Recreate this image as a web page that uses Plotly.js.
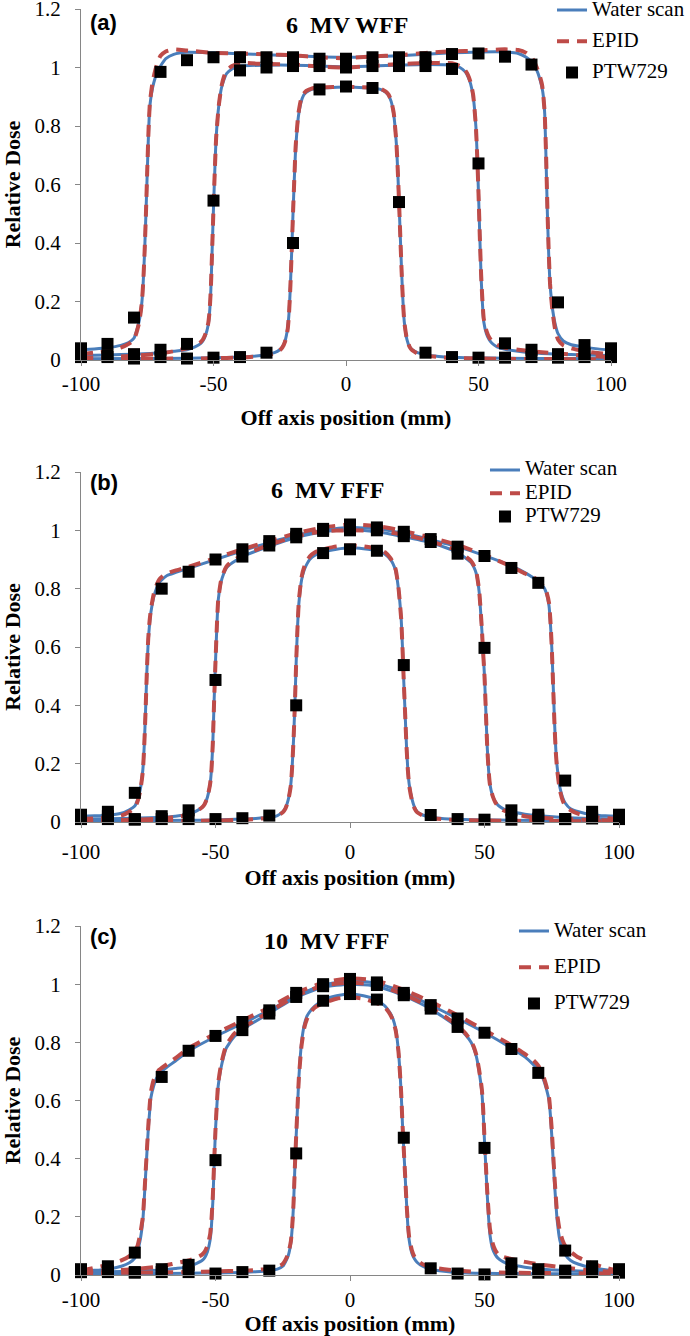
<!DOCTYPE html>
<html><head><meta charset="utf-8">
<script src="https://cdn.plot.ly/plotly-3.0.1.min.js"></script>
<style>html,body{margin:0;padding:0;background:#fff}</style>
</head><body><div id="chart" style="width:690px;height:1336px"></div>
<script>
// ---------------- data ----------------
const panelTitles = ['6\u00A0 MV WFF', '6\u00A0 MV FFF', '10\u00A0 MV FFF'];
const panelLabels = ['(a)', '(b)', '(c)'];
const seriesNames = ['Water scan', 'EPID', 'PTW729'];
const xTickVals = [-100, -50, 0, 50, 100];
const xTickText = ['-100', '-50', '0', '50', '100'];

const xPTW = [-100,-90,-80,-70,-60,-50,-40,-30,-20,-10,0,10,20,30,40,50,60,70,80,90,100];

const x150 = [-100,-95,-90,-85,-82, -80,-79,-78,-77,-76.5, -76,-75.5,-75,-74.5,-74, -73,-72,-71,-70,-68,
  -65,-60,-50,-40,-30, -20,-10,0,10,20, 30,40,50,60,65, 68,70,71,72,73, 74,74.5,75,75.5,76, 76.5,77,78,79,80, 82,85,90,95,100];
const x100 = [-100,-90,-80,-70,-65, -60,-57,-55,-54,-53, -52,-51.5,-51,-50.5,-50, -49.5,-49,-48,-47,-46,
  -45,-43,-40,-30,-20, -10,0,10,20,30, 40,43,45,46,47, 48,49,49.5,50,50.5, 51,51.5,52,53,54, 55,57,60,65,70, 80,90,100];
const x40 = [-100,-80,-60,-50,-40, -35,-30,-27,-25,-24, -23,-22,-21.5,-21,-20.5, -20,-19.5,-19,-18,-17,
  -16,-15,-13,-10,-5, 0,5,10,13,15, 16,17,18,19,19.5, 20,20.5,21,21.5,22, 23,24,25,27,30, 35,40,50,60,80, 100];

// Panel (a) 6 MV WFF
const waterA150 = [0.035,0.038,0.042,0.05,0.06, 0.075,0.1,0.135,0.2,0.27, 0.37,0.5,0.64,0.78,0.87, 0.93,0.965,0.99,1.005,1.03,
  1.045,1.052,1.05,1.047,1.044, 1.04,1.037,1.035,1.037,1.04, 1.045,1.05,1.053,1.053,1.048, 1.035,1.02,1.005,0.99,0.965,
  0.93,0.9,0.84,0.68,0.5, 0.36,0.26,0.17,0.12,0.09, 0.065,0.052,0.044,0.038,0.034];
const epidA150 = [0.02,0.025,0.03,0.042,0.055, 0.07,0.095,0.13,0.2,0.27, 0.37,0.5,0.65,0.79,0.88, 0.95,0.99,1.02,1.04,1.055,
  1.062,1.058,1.05,1.048,1.045, 1.042,1.035,1.032,1.038,1.042, 1.05,1.055,1.058,1.062,1.06, 1.05,1.035,1.02,1.0,0.975,
  0.94,0.9,0.84,0.7,0.52, 0.37,0.26,0.16,0.1,0.07, 0.05,0.04,0.03,0.024,0.02];
const waterA100 = [0.015,0.017,0.02,0.025,0.03, 0.035,0.045,0.055,0.065,0.085, 0.12,0.16,0.24,0.38,0.52, 0.65,0.76,0.87,0.93,0.96,
  0.98,0.995,1.005,1.008,1.008, 1.005,1.002,1.005,1.008,1.01, 1.008,1.0,0.985,0.97,0.945, 0.9,0.8,0.7,0.57,0.42,
  0.28,0.19,0.13,0.09,0.07, 0.058,0.045,0.037,0.03,0.025, 0.02,0.017,0.015];
const epidA100 = [0.008,0.01,0.015,0.022,0.03, 0.04,0.05,0.06,0.07,0.09, 0.125,0.165,0.245,0.38,0.52, 0.65,0.76,0.87,0.935,0.97,
  0.99,1.005,1.015,1.012,1.01, 1.003,1.0,1.005,1.012,1.015, 1.015,1.005,0.99,0.975,0.95, 0.905,0.8,0.7,0.57,0.42,
  0.29,0.2,0.14,0.1,0.078, 0.065,0.052,0.042,0.035,0.03, 0.022,0.015,0.01];
const waterA40 = [0.004,0.005,0.006,0.008,0.01, 0.013,0.018,0.025,0.035,0.045, 0.065,0.11,0.16,0.25,0.37, 0.5,0.62,0.72,0.83,0.88,
  0.905,0.915,0.925,0.93,0.932, 0.933,0.932,0.93,0.925,0.915, 0.905,0.885,0.84,0.74,0.65, 0.54,0.42,0.3,0.2,0.13,
  0.07,0.045,0.035,0.025,0.018, 0.012,0.009,0.007,0.006,0.005, 0.004];
const epidA40 = [0.003,0.004,0.005,0.006,0.008, 0.011,0.016,0.023,0.033,0.043, 0.063,0.105,0.16,0.25,0.37, 0.5,0.62,0.73,0.84,0.89,
  0.91,0.92,0.928,0.932,0.933, 0.934,0.933,0.932,0.928,0.918, 0.908,0.888,0.845,0.745,0.655, 0.545,0.42,0.3,0.2,0.13,
  0.07,0.045,0.033,0.022,0.015, 0.01,0.007,0.005,0.004,0.003, 0.003];
const ptwA150 = [0.04,0.055,0.145,0.985,1.025,1.035,1.035,1.035,1.035,1.03,1.03,1.035,1.035,1.035,1.046,1.048,1.037,1.01,0.197,0.051,0.04];
const ptwA100 = [0.02,0.015,0.02,0.035,0.055,0.545,0.99,1.0,1.005,1.005,1.0,1.005,1.005,1.005,0.995,0.672,0.057,0.035,0.02,0.02,0.02];
const ptwA40 = [0.01,0.01,0.005,0.01,0.005,0.008,0.01,0.025,0.40,0.925,0.935,0.93,0.54,0.025,0.01,0.008,0.008,0.01,0.008,0.01,0.01];

// Panel (b) 6 MV FFF
const waterB150 = [0.02,0.021,0.023,0.03,0.042, 0.055,0.075,0.11,0.18,0.26, 0.38,0.52,0.62,0.68,0.72, 0.77,0.8,0.82,0.83,0.845,
  0.855,0.87,0.9,0.93,0.958, 0.982,1.0,1.01,1.005,0.99, 0.968,0.944,0.913,0.878,0.855, 0.838,0.825,0.815,0.805,0.785,
  0.74,0.68,0.6,0.48,0.35, 0.25,0.19,0.12,0.085,0.065, 0.045,0.035,0.025,0.021,0.02];
const epidB150 = [0.01,0.012,0.015,0.022,0.035, 0.05,0.07,0.105,0.175,0.26, 0.38,0.52,0.63,0.69,0.73, 0.78,0.81,0.83,0.84,0.852,
  0.862,0.875,0.905,0.935,0.963, 0.99,1.01,1.02,1.015,0.998, 0.975,0.95,0.916,0.876,0.852, 0.84,0.828,0.818,0.808,0.79,
  0.75,0.69,0.6,0.47,0.34, 0.24,0.18,0.11,0.075,0.055, 0.04,0.028,0.018,0.013,0.01];
const waterB100 = [0.01,0.011,0.013,0.016,0.02, 0.026,0.038,0.05,0.062,0.085, 0.13,0.18,0.27,0.42,0.55, 0.67,0.76,0.82,0.85,0.87,
  0.88,0.893,0.91,0.945,0.975, 0.995,1.0,0.995,0.978,0.958, 0.925,0.905,0.89,0.875,0.85, 0.79,0.66,0.58,0.5,0.38,
  0.26,0.18,0.13,0.09,0.07, 0.058,0.045,0.035,0.027,0.022, 0.015,0.012,0.01];
const epidB100 = [0.005,0.006,0.008,0.012,0.017, 0.025,0.037,0.05,0.062,0.085, 0.13,0.18,0.27,0.42,0.55, 0.67,0.76,0.825,0.855,0.875,
  0.885,0.898,0.915,0.95,0.98, 0.997,1.0,0.998,0.985,0.963, 0.93,0.91,0.895,0.88,0.855, 0.795,0.665,0.58,0.5,0.38,
  0.26,0.18,0.13,0.09,0.068, 0.055,0.04,0.03,0.02,0.015, 0.01,0.007,0.005];
const waterB40 = [0.005,0.005,0.006,0.007,0.01, 0.012,0.016,0.022,0.035,0.048, 0.075,0.13,0.19,0.28,0.4, 0.55,0.67,0.75,0.83,0.865,
  0.885,0.9,0.915,0.925,0.935, 0.94,0.937,0.93,0.918,0.9, 0.885,0.86,0.8,0.7,0.6, 0.48,0.37,0.26,0.18,0.13,
  0.08,0.05,0.035,0.024,0.016, 0.011,0.009,0.007,0.006,0.005, 0.005];
const epidB40 = [0.003,0.003,0.004,0.005,0.008, 0.01,0.015,0.021,0.033,0.046, 0.072,0.125,0.19,0.28,0.4, 0.55,0.67,0.76,0.84,0.875,
  0.895,0.91,0.925,0.935,0.945, 0.948,0.945,0.937,0.925,0.905, 0.89,0.865,0.805,0.7,0.6, 0.48,0.37,0.26,0.18,0.125,
  0.075,0.047,0.033,0.022,0.014, 0.009,0.007,0.005,0.004,0.003, 0.003];
const ptwB150 = [0.025,0.035,0.1,0.8,0.858,0.9,0.935,0.963,0.988,1.005,1.02,1.01,0.995,0.97,0.944,0.912,0.871,0.82,0.142,0.035,0.025];
const ptwB100 = [0.015,0.02,0.01,0.02,0.04,0.487,0.91,0.948,0.976,0.998,1.0,1.0,0.98,0.96,0.92,0.597,0.04,0.025,0.01,0.02,0.015];
const ptwB40 = [0.01,0.01,0.008,0.01,0.01,0.01,0.013,0.022,0.40,0.922,0.935,0.93,0.538,0.024,0.01,0.008,0.008,0.012,0.01,0.012,0.01];

// Panel (c) 10 MV FFF
const waterC150 = [0.015,0.016,0.02,0.03,0.042, 0.058,0.08,0.12,0.19,0.26, 0.34,0.42,0.5,0.56,0.61, 0.65,0.675,0.69,0.7,0.715,
  0.735,0.77,0.82,0.865,0.91, 0.96,0.997,1.012,1.003,0.972, 0.928,0.882,0.834,0.78,0.75, 0.725,0.705,0.69,0.67,0.64,
  0.6,0.55,0.48,0.4,0.32, 0.25,0.19,0.12,0.09,0.07, 0.05,0.037,0.025,0.018,0.015];
const epidC150 = [0.015,0.025,0.035,0.05,0.065, 0.085,0.1,0.14,0.2,0.27, 0.35,0.43,0.51,0.58,0.63, 0.67,0.69,0.705,0.712,0.725,
  0.745,0.78,0.83,0.875,0.92, 0.97,1.005,1.02,1.012,0.98, 0.94,0.893,0.842,0.79,0.76, 0.74,0.72,0.7,0.68,0.65,
  0.61,0.56,0.5,0.42,0.34, 0.27,0.21,0.15,0.12,0.1, 0.08,0.06,0.04,0.025,0.015];
const waterC100 = [0.01,0.011,0.013,0.017,0.022, 0.028,0.04,0.05,0.06,0.08, 0.12,0.17,0.25,0.38,0.5, 0.58,0.65,0.71,0.75,0.78,
  0.795,0.82,0.845,0.9,0.955, 0.99,1.0,0.993,0.96,0.915, 0.852,0.825,0.8,0.78,0.75, 0.7,0.63,0.56,0.46,0.37,
  0.28,0.2,0.14,0.09,0.07, 0.058,0.045,0.035,0.027,0.021, 0.016,0.012,0.01];
const epidC100 = [0.01,0.015,0.02,0.03,0.04, 0.05,0.06,0.07,0.08,0.1, 0.14,0.19,0.27,0.39,0.5, 0.59,0.66,0.72,0.76,0.79,
  0.805,0.83,0.85,0.905,0.96, 0.995,1.005,0.997,0.965,0.92, 0.858,0.83,0.805,0.785,0.755, 0.705,0.64,0.57,0.47,0.38,
  0.29,0.22,0.16,0.11,0.085, 0.072,0.062,0.055,0.045,0.037, 0.025,0.015,0.01];
const waterC40 = [0.004,0.005,0.006,0.007,0.009, 0.011,0.015,0.02,0.03,0.045, 0.065,0.11,0.16,0.24,0.37, 0.48,0.58,0.68,0.8,0.86,
  0.89,0.905,0.925,0.945,0.96, 0.966,0.96,0.945,0.925,0.9, 0.88,0.845,0.77,0.63,0.52, 0.43,0.34,0.25,0.17,0.12,
  0.075,0.055,0.043,0.03,0.02, 0.013,0.009,0.006,0.005,0.004, 0.004];
const epidC40 = [0.006,0.008,0.01,0.012,0.015, 0.017,0.022,0.028,0.038,0.052, 0.072,0.115,0.165,0.245,0.37, 0.48,0.58,0.68,0.79,0.85,
  0.88,0.9,0.92,0.935,0.95, 0.955,0.95,0.935,0.92,0.895, 0.875,0.84,0.77,0.63,0.52, 0.43,0.34,0.25,0.18,0.13,
  0.085,0.062,0.05,0.037,0.027, 0.02,0.015,0.01,0.008,0.006, 0.005];
const ptwC150 = [0.02,0.03,0.077,0.681,0.771,0.822,0.87,0.91,0.97,1.0,1.018,1.006,0.97,0.928,0.882,0.833,0.777,0.695,0.084,0.03,0.02];
const ptwC100 = [0.01,0.015,0.01,0.02,0.035,0.395,0.842,0.899,0.956,0.993,1.0,0.997,0.962,0.916,0.853,0.437,0.04,0.02,0.015,0.02,0.015];
const ptwC40 = [0.01,0.01,0.008,0.01,0.01,0.005,0.01,0.015,0.418,0.943,0.966,0.947,0.472,0.023,0.005,0.002,0.01,0.008,0.008,0.01,0.008];

// ---------------- build ----------------
const BLUE = '#4A7EBB', RED = '#BE4B48';
const SERIF = "'Times New Roman', 'Liberation Serif', serif";
const SANS = "Arial, 'Liberation Sans', sans-serif";

const panels = [
  {water:[waterA150,waterA100,waterA40], epid:[epidA150,epidA100,epidA40], ptw:[ptwA150,ptwA100,ptwA40]},
  {water:[waterB150,waterB100,waterB40], epid:[epidB150,epidB100,epidB40], ptw:[ptwB150,ptwB100,ptwB40]},
  {water:[waterC150,waterC100,waterC40], epid:[epidC150,epidC100,epidC40], ptw:[ptwC150,ptwC100,ptwC40]}
];
const xGrids = [x150, x100, x40];
const legendIds = ['legend', 'legend2', 'legend3'];
// legend text is drawn at 21px while rows are packed tighter than Plotly's default row height
const legendName = s => '<span style="font-size:21px">' + s + '</span>';

const traces = [];
panels.forEach((p, i) => {
  const xa = i === 0 ? 'x' : 'x' + (i + 1);
  const ya = i === 0 ? 'y' : 'y' + (i + 1);
  const lg = legendIds[i];
  p.water.forEach((ys, k) => traces.push({
    type:'scatter', mode:'lines', x:xGrids[k], y:ys, xaxis:xa, yaxis:ya,
    name:legendName(seriesNames[0]), legend:lg, legendgroup:'w'+i, showlegend:k===0, cliponaxis:false,
    line:{color:BLUE, width:3, shape:'spline', smoothing:0.5}
  }));
  p.epid.forEach((ys, k) => traces.push({
    type:'scatter', mode:'lines', x:xGrids[k], y:ys, xaxis:xa, yaxis:ya,
    name:legendName(seriesNames[1]), legend:lg, legendgroup:'e'+i, showlegend:k===0, cliponaxis:false,
    line:{color:RED, width:4, dash:'12px,8px', shape:'spline', smoothing:0.5}
  }));
  p.ptw.forEach((ys, k) => traces.push({
    type:'scatter', mode:'markers', x:xPTW, y:ys, xaxis:xa, yaxis:ya,
    name:legendName(seriesNames[2]), legend:lg, legendgroup:'p'+i, showlegend:k===0, cliponaxis:false,
    marker:{symbol:'square', size:12, color:'#000000'}
  }));
});

const AX = '#868686';
function xAxis(domain, anchor, standoff, tstand) {
  return {domain, anchor, range:[-100,100], tickmode:'array', tickvals:xTickVals, ticktext:xTickText,
    showline:true, linecolor:AX, linewidth:1, ticks:'outside', ticklen:5, tickcolor:AX,
    showgrid:false, zeroline:false, ticklabelstandoff:standoff, ticklabeloverflow:'allow',
    tickfont:{family:SERIF, size:21, color:'#000'},
    title:{text:'Off axis position (mm)', standoff:tstand, font:{family:SERIF, size:22, color:'#000', weight:'bold'}}};
}
function yAxis(domain, anchor) {
  return {domain, anchor, range:[0,1.2], dtick:0.2, tick0:0,
    showline:true, linecolor:AX, linewidth:1, ticks:'outside', ticklen:5, tickcolor:AX,
    showgrid:false, zeroline:false, ticklabelstandoff:10, ticklabeloverflow:'allow',
    tickfont:{family:SERIF, size:21, color:'#000'},
    title:{text:'Relative Dose', standoff:18, font:{family:SERIF, size:22, color:'#000', weight:'bold'}}};
}
function legend(x, y, gap) {
  return {x, y, xanchor:'left', yanchor:'top', bgcolor:'rgba(0,0,0,0)', borderwidth:0,
    traceorder:'grouped', tracegroupgap:gap,
    font:{family:SERIF, size:14, color:'#000'}};
}

const annotations = [];
const titleX = [0.502, 0.459, 0.457];
const titleY = [0.955, 0.949, 0.958];
const labelY = [0.962, 0.969, 0.969];
panelTitles.forEach((t, i) => {
  const xr = i === 0 ? 'x domain' : 'x' + (i + 1) + ' domain';
  const yr = i === 0 ? 'y domain' : 'y' + (i + 1) + ' domain';
  annotations.push({text:t, xref:xr, yref:yr, x:titleX[i], y:titleY[i], xanchor:'center', yanchor:'middle',
    showarrow:false, font:{family:SERIF, size:24, color:'#000', weight:'bold'}});
  annotations.push({text:panelLabels[i], xref:xr, yref:yr, x:0.013, y:labelY[i], xanchor:'left', yanchor:'middle',
    showarrow:false, font:{family:SANS, size:22, color:'#000', weight:'bold'}});
});

const layout = {
  width:690, height:1336, margin:{l:81, r:71, t:9, b:61, autoexpand:false},
  paper_bgcolor:'#fff', plot_bgcolor:'#fff',
  font:{family:SERIF},
  xaxis:xAxis([0, 530/538], 'y', 0, 14),
  xaxis2:xAxis([0, 1], 'y2', 6, 6),
  xaxis3:xAxis([0, 1], 'y3', 1, 16),
  yaxis:yAxis([0.72275, 1.0], 'x'),
  yaxis2:yAxis([0.35782, 0.63428], 'x2'),
  yaxis3:yAxis([0, 0.27567], 'x3'),
  legend:legend(0.8755, 1.0115, 10),
  legend2:legend(0.7509, 0.6482, 2),
  legend3:legend(0.8048, 0.2840, 15),
  annotations
};

Plotly.newPlot('chart', traces, layout, {displayModeBar:false, staticPlot:true});
</script>
</body></html>
